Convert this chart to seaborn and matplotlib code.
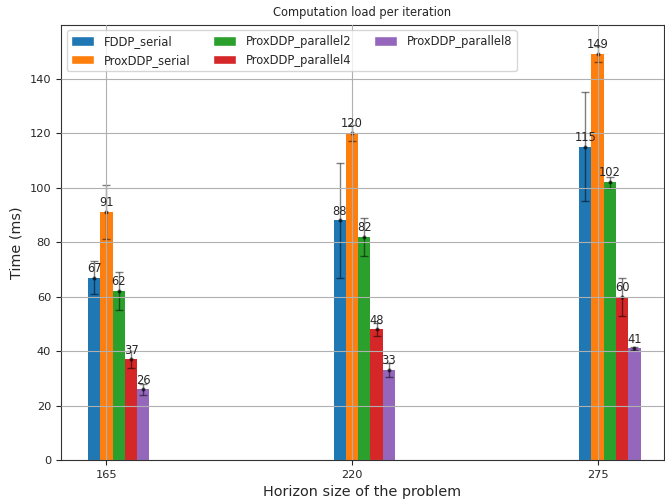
import numpy as np
import pandas as pd
import matplotlib
matplotlib.use("Agg")
import matplotlib.pyplot as plt
from matplotlib.container import BarContainer
from matplotlib.patches import Patch
import seaborn as sns

# data
horizons = [165, 220, 275]
solvers = ["FDDP_serial", "ProxDDP_serial", "ProxDDP_parallel2",
           "ProxDDP_parallel4", "ProxDDP_parallel8"]
fddp_serial = [67, 88, 115]
proxddp_serial = [91, 120, 149]
proxddp_parallel2 = [62, 82, 102]
proxddp_parallel4 = [37, 48, 60]
proxddp_parallel8 = [26, 33, 41]
fddp_serial_err = [6, 21, 20]
proxddp_serial_err = [10, 3, 3]
proxddp_parallel2_err = [7, 7, 2]
proxddp_parallel4_err = [3, 2.5, 7]
proxddp_parallel8_err = [2, 2.5, 0.4]

means = [fddp_serial, proxddp_serial, proxddp_parallel2, proxddp_parallel4, proxddp_parallel8]
errs = [fddp_serial_err, proxddp_serial_err, proxddp_parallel2_err,
        proxddp_parallel4_err, proxddp_parallel8_err]
colors = ["#1f77b4", "#ff7f0e", "#2ca02c", "#d62728", "#9467bd"]
offsets = [-1, 0, 1, 2, 3]

sns.set_style("ticks")
plt.rcParams['font.family'] = ['DejaVu Sans']

fig, ax = plt.subplots(figsize=(6.65, 5.04), dpi=100)
fig.subplots_adjust(left=0.0915, right=0.998, bottom=0.087, top=0.951)

width = 2.75
for name, vals, err, col, off in zip(solvers, means, errs, colors, offsets):
    xs = [h + off * width for h in horizons]
    df = pd.DataFrame({"x": xs, "y": vals})
    sns.barplot(data=df, x="x", y="y", native_scale=True, width=width / 55,
                color=col, saturation=1, errorbar=None, linewidth=0, ax=ax)
    ax.errorbar(xs, vals, yerr=err, fmt='o', markersize=2, color='k',
                alpha=0.5, capsize=3, elinewidth=1)

for cont in ax.containers:
    if isinstance(cont, BarContainer):
        ax.bar_label(cont, fmt='%d', padding=2, fontsize=8.3)

ax.set_xticks(horizons)
ax.set_xticklabels([str(h) for h in horizons])
ax.set_xlim(154.8, 289.8)
ax.set_ylim(0, 159.8)
ax.set_yticks(np.arange(0, 141, 20))
ax.tick_params(labelsize=8.2)
ax.grid(True, color='#b0b0b0', linewidth=0.8)
ax.set_axisbelow(False)
for sp in ax.spines.values():
    sp.set_visible(True)
    sp.set_linewidth(0.8)
    sp.set_color('#333333')

ax.set_title("Computation load per iteration", fontsize=8.3)
ax.set_xlabel("Horizon size of the problem", fontsize=10.4)
ax.set_ylabel("Time (ms)", fontsize=10.4)
handles = [Patch(facecolor=c, label=n) for c, n in zip(colors, solvers)]
ax.legend(handles=handles, loc='upper left', ncol=3, fontsize=8.3,
          handleheight=0.85)

fig.savefig("out.png", dpi=100)
